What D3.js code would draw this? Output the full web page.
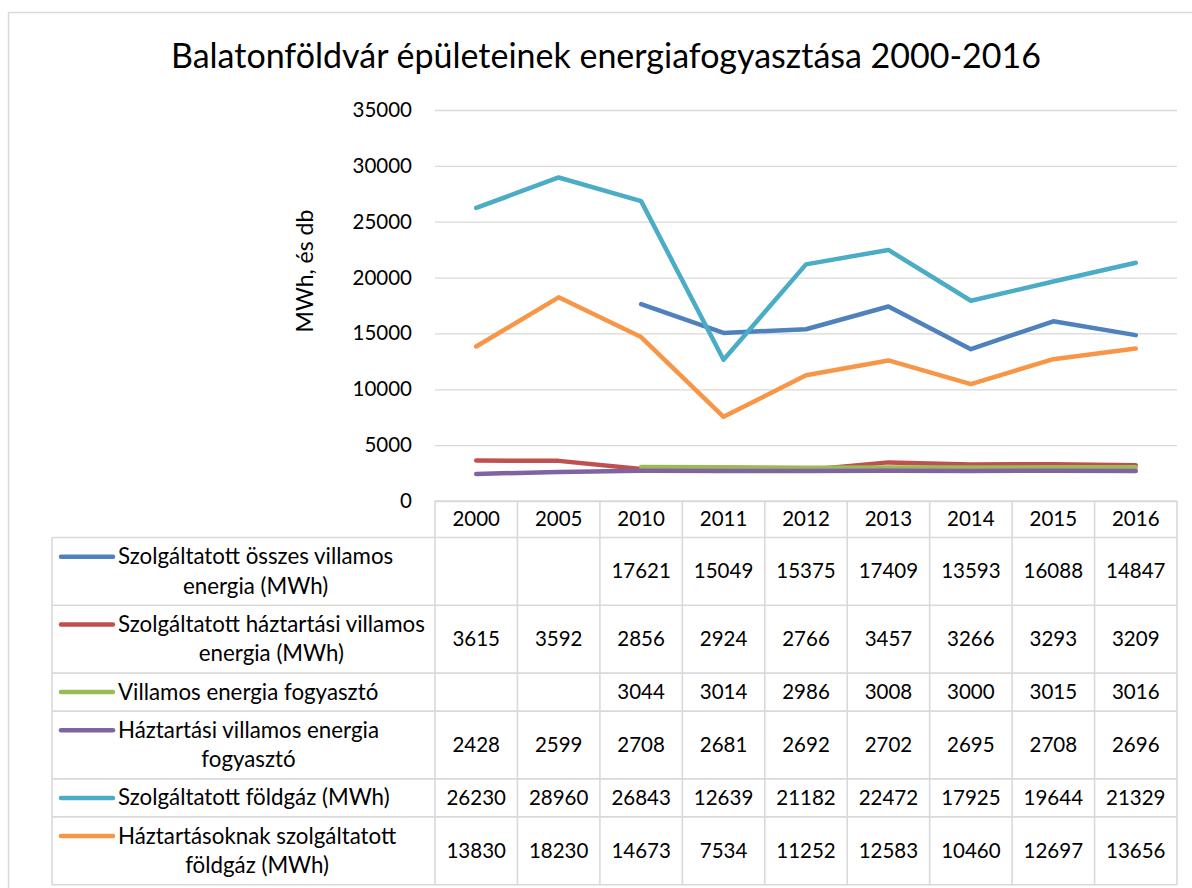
<!DOCTYPE html>
<html>
<head>
<meta charset="utf-8">
<script src="https://cdn.jsdelivr.net/npm/d3@7"></script>
<style>
  body { margin: 0; background: #fff; }
  text { font-family: Lato, "Open Sans", sans-serif; fill: #000; }
</style>
</head>
<body>
<svg id="chart" width="1192" height="888"></svg>
<script>
// adatok
var years = ["2000", "2005", "2010", "2011", "2012", "2013", "2014", "2015", "2016"];
var seriesNames = [
  ["Szolgáltatott összes villamos", "energia (MWh)"],
  ["Szolgáltatott háztartási villamos", "energia (MWh)"],
  ["Villamos energia fogyasztó"],
  ["Háztartási villamos energia", "fogyasztó"],
  ["Szolgáltatott földgáz (MWh)"],
  ["Háztartásoknak szolgáltatott", "földgáz (MWh)"]
];
var osszesVillamos = [null, null, 17621, 15049, 15375, 17409, 13593, 16088, 14847];
var haztartasiVillamos = [3615, 3592, 2856, 2924, 2766, 3457, 3266, 3293, 3209];
var villamosFogyaszto = [null, null, 3044, 3014, 2986, 3008, 3000, 3015, 3016];
var haztartasiFogyaszto = [2428, 2599, 2708, 2681, 2692, 2702, 2695, 2708, 2696];
var foldgaz = [26230, 28960, 26843, 12639, 21182, 22472, 17925, 19644, 21329];
var haztartasiFoldgaz = [13830, 18230, 14673, 7534, 11252, 12583, 10460, 12697, 13656];
var yTicks = [0, 5000, 10000, 15000, 20000, 25000, 30000, 35000];

var allSeries = [osszesVillamos, haztartasiVillamos, villamosFogyaszto, haztartasiFogyaszto, foldgaz, haztartasiFoldgaz];
var colors = ["#4F81BD", "#C0504D", "#9BBB59", "#8064A2", "#4BACC6", "#F79646"];

var svg = d3.select("#chart");
var gridColor = "#d9d9d9";
var fontSize = "20.5px";

// keret
svg.append("rect")
  .attr("x", 8.5).attr("y", 12.5)
  .attr("width", 1300).attr("height", 1000)
  .attr("fill", "#fff")
  .attr("stroke", gridColor)
  .attr("stroke-width", 1.5);

// cim
svg.append("text")
  .attr("x", 606).attr("y", 68)
  .attr("text-anchor", "middle")
  .style("font-size", "34px")
  .text("Balatonföldvár épületeinek energiafogyasztása 2000-2016");

var x = d3.scaleBand().domain(years).range([435, 1177]);
var y = d3.scaleLinear().domain([0, 35000]).range([501, 110]);

// racsvonalak
svg.append("g")
  .attr("transform", "translate(435,0)")
  .call(d3.axisLeft(y).tickValues(yTicks).tickSize(-(1177 - 435)).tickFormat(""))
  .call(function(g){
    g.select(".domain").remove();
    g.selectAll("line").attr("stroke", gridColor).attr("stroke-width", 1.3);
  });

// y tengely feliratok
svg.append("g")
  .attr("transform", "translate(435,0)")
  .call(d3.axisLeft(y).tickValues(yTicks).tickSize(0).tickPadding(23).tickFormat(d3.format("d")))
  .call(function(g){
    g.select(".domain").remove();
    g.selectAll("text")
      .style("font-size", fontSize)
      .style("font-family", "Lato, sans-serif")
      .attr("fill", "#000");
  });

svg.append("text")
  .attr("transform", "translate(313,271) rotate(-90)")
  .attr("text-anchor", "middle")
  .style("font-size", "23px")
  .text("MWh, és db");

// vonalak
var line = d3.line()
  .defined(function(d){ return d != null; })
  .x(function(d, i){ return x(years[i]) + x.bandwidth() / 2; })
  .y(function(d){ return y(d); });

svg.append("g").selectAll("path")
  .data(allSeries)
  .enter()
  .append("path")
  .attr("d", line)
  .attr("fill", "none")
  .attr("stroke", function(d, i){ return colors[i]; })
  .attr("stroke-width", 4.5)
  .attr("stroke-linejoin", "round")
  .attr("stroke-linecap", "round");

// adattabla
var tableLeft = 52, headerTop = 501, headerH = 36.5;
var rowH = seriesNames.map(function(n){ return n.length > 1 ? 67.8 : 38; });
var rowTop = [];
var acc = headerTop + headerH;
rowH.forEach(function(h){ rowTop.push(acc); acc += h; });
var tableBottom = acc;

var table = svg.append("g");

// fejlec
table.selectAll("text.year")
  .data(years)
  .enter()
  .append("text")
  .attr("class", "year")
  .attr("x", function(d){ return x(d) + x.bandwidth() / 2; })
  .attr("y", headerTop + headerH / 2 + 7)
  .attr("text-anchor", "middle")
  .style("font-size", fontSize)
  .text(function(d){ return d; });

// sorok
seriesNames.forEach(function(name, si){
  var top = rowTop[si], h = rowH[si];
  var lineGap = 29.5;
  var firstY = top + h / 2 - (name.length - 1) * lineGap / 2;

  table.append("line")
    .attr("x1", 61).attr("x2", 113)
    .attr("y1", firstY).attr("y2", firstY)
    .attr("stroke", colors[si])
    .attr("stroke-width", 4.5)
    .attr("stroke-linecap", "round");

  var label = table.append("text")
    .style("font-size", "22.3px");
  var spans = label.selectAll("tspan")
    .data(name)
    .enter()
    .append("tspan")
    .attr("x", 0)
    .attr("y", function(d, i){ return firstY + 7.5 + i * lineGap; })
    .text(function(d){ return d; });
  var w = d3.max(spans.nodes(), function(n){ return n.getComputedTextLength(); });
  label.attr("text-anchor", "middle");
  spans.attr("x", 118 + w / 2);

  table.selectAll("text.v" + si)
    .data(allSeries[si])
    .enter()
    .append("text")
    .attr("class", "v" + si)
    .attr("x", function(d, i){ return x(years[i]) + x.bandwidth() / 2; })
    .attr("y", top + h / 2 + 7)
    .attr("text-anchor", "middle")
    .style("font-size", fontSize)
    .text(function(d){ return d == null ? "" : d; });
});

// tablavonalak
var grid = table.append("g")
  .attr("stroke", gridColor)
  .attr("stroke-width", 1.6);

// vizszintes
grid.append("line").attr("x1", 435).attr("x2", 1177).attr("y1", headerTop).attr("y2", headerTop);
rowTop.concat([tableBottom]).forEach(function(t){
  grid.append("line").attr("x1", tableLeft).attr("x2", 1177).attr("y1", t).attr("y2", t);
});
// fuggoleges
grid.append("line").attr("x1", tableLeft).attr("x2", tableLeft).attr("y1", rowTop[0]).attr("y2", tableBottom);
years.forEach(function(yr){
  grid.append("line").attr("x1", x(yr)).attr("x2", x(yr)).attr("y1", headerTop).attr("y2", tableBottom);
});
grid.append("line").attr("x1", 1177).attr("x2", 1177).attr("y1", headerTop).attr("y2", tableBottom);
</script>
</body>
</html>
